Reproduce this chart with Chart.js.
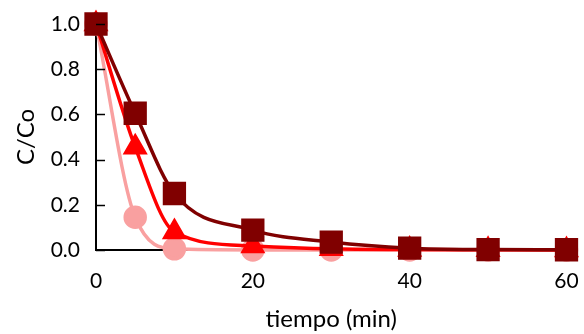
<!DOCTYPE html>
<html>
<head>
<meta charset="utf-8">
<script src="https://cdn.jsdelivr.net/npm/chart.js@4"></script>
<style>
  html, body { margin: 0; padding: 0; background: #fff; }
  #wrap { width: 584px; height: 334px; }
</style>
</head>
<body>
<div id="wrap"><canvas id="decay"></canvas></div>
<script>
// time points (min) and C/Co for each run
var tiempo = [0, 5, 10, 20, 30, 40, 50, 60];
var serieOscura = [1.0, 0.605, 0.25, 0.088, 0.035, 0.008, 0.002, 0.001];
var serieRoja = [1.0, 0.455, 0.08, 0.018, 0.005, 0.002, 0.001, 0.0];
var serieRosa = [1.0, 0.145, 0.005, 0.0, 0.0, 0.0, 0.0, 0.0];
var yTicks = [0, 0.2, 0.4, 0.6, 0.8, 1.0];
var xTicks = [0, 20, 40, 60];

function pts(vals) {
  return tiempo.map(function(t, i) { return { x: t, y: vals[i] }; });
}

var fontName = 'Lato, "Open Sans", sans-serif';

// small inward tick marks on the y axis
var innerTicks = {
  id: 'innerTicks',
  afterDatasetsDraw: function(chart) {
    var ctx = chart.ctx, y = chart.scales.y, left = chart.chartArea.left;
    ctx.save();
    ctx.strokeStyle = '#000';
    ctx.lineWidth = 1.5;
    yTicks.forEach(function(v) {
      var py = Math.round(y.getPixelForValue(v)) + 0.5;
      ctx.beginPath();
      ctx.moveTo(left, py);
      ctx.lineTo(left + 9, py);
      ctx.stroke();
    });
    ctx.restore();
  }
};

new Chart(document.getElementById('decay'), {
  type: 'line',
  data: {
    datasets: [{
      data: pts(serieOscura),
      borderColor: '#800000',
      backgroundColor: '#800000',
      pointStyle: 'rect',
      pointRadius: 14,
      borderWidth: 3.5,
      order: 1
    }, {
      data: pts(serieRoja),
      borderColor: '#ff0000',
      backgroundColor: '#ff0000',
      pointStyle: 'triangle',
      pointRadius: 11,
      borderWidth: 3.5,
      order: 2
    }, {
      data: pts(serieRosa),
      borderColor: '#f9a0a0',
      backgroundColor: '#f9a0a0',
      pointStyle: 'circle',
      pointRadius: 10,
      borderWidth: 3.5,
      order: 3
    }]
  },
  options: {
    responsive: true,
    maintainAspectRatio: false,
    animation: false,
    events: [],
    clip: false,
    cubicInterpolationMode: 'monotone',
    layout: { padding: 0 },
    plugins: { legend: { display: false }, tooltip: { enabled: false } },
    elements: { point: { borderWidth: 0 } },
    scales: {
      x: {
        type: 'linear',
        min: 0,
        max: 60,
        afterBuildTicks: function(s) { s.ticks = xTicks.map(function(v) { return { value: v }; }); },
        afterFit: function(s) { s.height = 84; s.paddingLeft = 0; s.paddingRight = 16; },
        border: { display: true, color: '#000', width: 2 },
        grid: { display: false, drawTicks: false },
        ticks: { color: '#000', font: { family: fontName, size: 21 }, padding: 19 },
        title: { display: true, text: 'tiempo (min)', color: '#000', font: { family: fontName, size: 24 }, padding: { top: 0, bottom: 0 } }
      },
      y: {
        min: 0,
        max: 1,
        afterBuildTicks: function(s) { s.ticks = yTicks.map(function(v) { return { value: v }; }); },
        afterFit: function(s) { s.width = 96; s.paddingTop = 24; s.paddingBottom = 0; },
        border: { display: true, color: '#000', width: 2 },
        grid: { display: false, drawTicks: false },
        ticks: {
          color: '#000',
          font: { family: fontName, size: 21 },
          padding: 16,
          callback: function(v) { return Number(v).toFixed(1); }
        },
        title: { display: true, text: 'C/Co', color: '#000', font: { family: fontName, size: 24 }, padding: { top: 12, bottom: 0 } }
      }
    }
  },
  plugins: [innerTicks]
});
</script>
</body>
</html>
